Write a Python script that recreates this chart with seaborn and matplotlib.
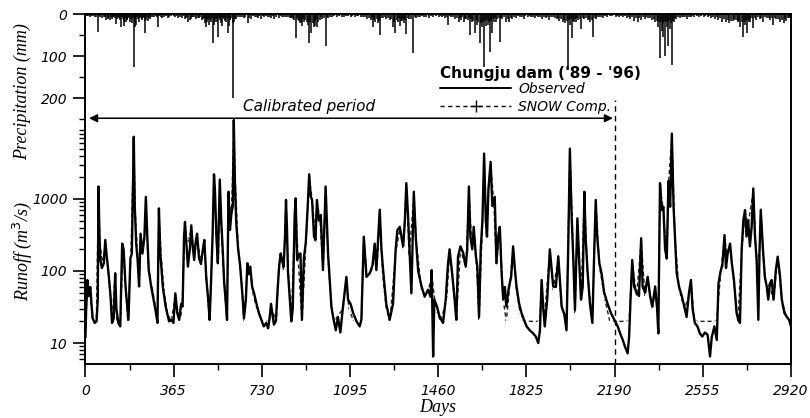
import matplotlib
matplotlib.use("Agg")
import matplotlib.pyplot as plt
import seaborn as sns
import pandas as pd
from matplotlib.lines import Line2D
from matplotlib.ticker import FixedLocator, NullFormatter, FixedFormatter

# ---------------- data ----------------
x_ticks = [0, 365, 730, 1095, 1460, 1825, 2190, 2555, 2920]
runoff_ticks = [10, 100, 1000]
precip_ticks = [0, 100, 200]

# larger daily rainfall events
precip_day = [5, 18, 32, 50, 62, 75, 87, 95, 100, 112, 122, 128, 140, 149, 155, 161, 170, 178, 185, 192,
              199, 204, 210, 216, 224, 232, 238, 245, 252, 258, 266, 272, 282, 300, 312, 325, 340, 352,
              370, 385, 398, 410, 425, 432, 446, 458, 470, 482, 494, 500, 510, 518, 527, 535, 548, 556,
              566, 575, 582, 590, 600, 609, 615, 625, 640, 655, 672, 685, 700, 715, 725,
              740, 755, 770, 782, 800, 815, 830, 845, 860, 870, 880, 890, 898, 905, 915, 925, 935, 945,
              952, 960, 970, 980, 994, 1005, 1020, 1040, 1060, 1080,
              1100, 1115, 1130, 1150, 1165, 1180, 1190, 1200, 1210, 1218, 1230, 1245, 1260, 1273, 1283,
              1292, 1300, 1310, 1320, 1328, 1340, 1356, 1370, 1385, 1400, 1420, 1440,
              1465, 1475, 1490, 1501, 1515, 1530, 1545, 1555, 1565, 1575, 1591, 1600, 1612, 1620, 1632,
              1640, 1649, 1658, 1666, 1674, 1683, 1692, 1700, 1715, 1725, 1740, 1755, 1765, 1780, 1800, 1815,
              1830, 1845, 1860, 1875, 1890, 1905, 1920, 1935, 1950, 1962, 1975, 1985, 1998, 2005, 2012,
              2022, 2030, 2040, 2053, 2065, 2078, 2090, 2102, 2112, 2125, 2140, 2160, 2180,
              2195, 2210, 2225, 2240, 2255, 2270, 2285, 2300, 2315, 2330, 2345, 2358, 2370, 2378, 2385,
              2392, 2399, 2406, 2413, 2420, 2426, 2435, 2445, 2460, 2475, 2490, 2505, 2520, 2540,
              2560, 2575, 2590, 2605, 2620, 2635, 2650, 2665, 2680, 2690, 2700, 2710, 2723, 2730, 2737,
              2745, 2752, 2764, 2775, 2790, 2805, 2820, 2835, 2847, 2860, 2875, 2890, 2900, 2912]
precip_mm = [4, 6, 5, 43, 8, 6, 14, 12, 15, 7, 10, 23, 9, 30, 12, 28, 15, 10, 18, 22,
             126, 30, 25, 12, 10, 15, 8, 45, 14, 16, 12, 8, 6, 30, 6, 8, 10, 5,
             6, 10, 9, 12, 18, 15, 8, 12, 10, 14, 22, 30, 25, 18, 70, 20, 55, 15,
             28, 12, 20, 45, 15, 200, 20, 12, 8, 10, 22, 12, 8, 10, 12,
             8, 6, 10, 12, 9, 6, 8, 10, 12, 58, 15, 22, 28, 18, 20, 70, 45, 30,
             28, 30, 14, 12, 76, 10, 8, 6, 8, 5,
             6, 8, 5, 7, 12, 14, 30, 18, 22, 50, 10, 12, 15, 30, 45,
             20, 28, 16, 22, 48, 12, 93, 10, 8, 6, 9, 6,
             6, 8, 10, 26, 8, 12, 18, 14, 20, 12, 50, 18, 45, 25, 70,
             30, 126, 28, 25, 90, 45, 20, 18, 66, 12, 18, 20, 12, 10, 8, 12,
             6, 8, 10, 6, 12, 10, 14, 8, 12, 16, 20, 22, 133, 25, 58,
             20, 18, 14, 35, 12, 15, 20, 55, 12, 8, 10, 6, 5,
             6, 8, 6, 10, 12, 16, 18, 15, 12, 10, 14, 18, 30, 105, 40,
             55, 100, 30, 75, 35, 121, 20, 12, 10, 8, 12, 8, 6, 8,
             6, 8, 10, 12, 14, 18, 20, 22, 16, 15, 20, 30, 55, 25, 45,
             20, 18, 34, 14, 12, 18, 10, 14, 25, 12, 20, 22, 16, 10]

# small daily rainfall (dense band along the top)
small_rain_day = [2, 10, 24, 40, 44, 57, 68, 80, 92, 105, 108, 116, 119, 132, 136, 144, 152, 158, 164, 167,
                  174, 182, 188, 195, 207, 213, 220, 228, 235, 242, 248, 255, 262, 269, 278, 290, 295, 306,
                  318, 332, 346, 360,
                  366, 378, 392, 404, 416, 420, 438, 441, 452, 464, 476, 488, 491, 497, 504, 507, 514, 522,
                  530, 540, 544, 552, 560, 563, 570, 578, 586, 594, 597, 604, 612, 620, 632, 648, 662, 678,
                  692, 708, 720,
                  735, 748, 762, 776, 790, 808, 822, 838, 852, 856, 864, 874, 885, 894, 901, 910, 920, 930,
                  940, 948, 956, 964, 975, 988, 999, 1012, 1030, 1050, 1070, 1088,
                  1105, 1122, 1140, 1158, 1172, 1185, 1195, 1205, 1214, 1224, 1238, 1252, 1266, 1278, 1288,
                  1296, 1305, 1315, 1324, 1334, 1348, 1362, 1378, 1392, 1410, 1430, 1450,
                  1470, 1482, 1496, 1508, 1522, 1537, 1550, 1560, 1570, 1582, 1586, 1596, 1605, 1616, 1626,
                  1636, 1645, 1654, 1662, 1670, 1679, 1688, 1696, 1705, 1710, 1720, 1732, 1747, 1760, 1772,
                  1790, 1808, 1820,
                  1838, 1852, 1868, 1882, 1898, 1912, 1928, 1942, 1956, 1968, 1980, 1992, 2001, 2008, 2017,
                  2026, 2035, 2046, 2059, 2071, 2084, 2096, 2107, 2118, 2132, 2150, 2170,
                  2200, 2218, 2232, 2248, 2262, 2278, 2292, 2308, 2322, 2338, 2352, 2364, 2374, 2381, 2389,
                  2395, 2403, 2410, 2417, 2423, 2430, 2440, 2452, 2468, 2482, 2498, 2512, 2530, 2548,
                  2566, 2582, 2598, 2612, 2628, 2642, 2658, 2672, 2685, 2695, 2705, 2716, 2726, 2733, 2741,
                  2749, 2757, 2770, 2782, 2797, 2812, 2828, 2841, 2853, 2867, 2882, 2895, 2906, 2916]
small_rain_mm = [3, 5, 4, 6, 8, 5, 10, 7, 9, 6, 11, 8, 5, 12, 7, 14, 6, 18, 9, 20,
                 11, 7, 13, 9, 14, 8, 18, 6, 12, 9, 16, 7, 10, 5, 8, 4, 7, 5,
                 9, 4, 6, 3,
                 4, 5, 7, 5, 9, 6, 11, 8, 6, 10, 8, 12, 9, 16, 20, 12, 14, 10,
                 25, 12, 18, 9, 22, 12, 10, 16, 10, 28, 14, 9, 22, 12, 8, 6, 7, 9,
                 5, 6, 4,
                 4, 5, 6, 5, 7, 5, 6, 7, 9, 6, 14, 10, 16, 18, 12, 14, 26, 18,
                 22, 16, 12, 20, 8, 10, 6, 7, 5, 4, 6, 4,
                 4, 5, 6, 8, 9, 10, 14, 12, 16, 9, 8, 10, 12, 18, 14,
                 10, 16, 12, 14, 9, 12, 8, 6, 5, 6, 4, 5,
                 4, 5, 6, 5, 7, 9, 10, 8, 12, 14, 9, 12, 16, 14, 20,
                 22, 18, 16, 14, 20, 16, 12, 10, 12, 9, 10, 8, 12, 9, 7,
                 5, 6, 4,
                 4, 6, 5, 7, 6, 8, 7, 9, 10, 12, 14, 16, 14, 12, 16,
                 12, 10, 12, 9, 10, 12, 14, 10, 7, 6, 5, 4,
                 4, 5, 4, 6, 8, 9, 10, 8, 7, 9, 12, 16, 20, 18, 22,
                 16, 20, 18, 14, 22, 16, 10, 8, 7, 6, 7, 5, 4, 5,
                 4, 5, 6, 8, 10, 12, 14, 16, 12, 14, 16, 20, 18, 16, 14,
                 12, 10, 9, 8, 10, 8, 9, 10, 9, 12, 14, 12, 9, 6]

obs_day = [0, 3, 8, 14, 20, 25, 30, 38, 46, 51, 54, 58, 62, 68, 76, 82, 88, 96, 104, 110, 117, 123, 128,
           136, 144, 152, 158, 166, 172, 178, 186, 192, 200, 204, 210, 216, 222, 228, 236, 244, 250, 256,
           262, 272, 282, 292, 298, 304, 310, 320, 332, 346, 356, 364, 372, 380, 388, 396, 402, 408, 412,
           418, 424, 432, 438, 444, 450, 456, 462, 470, 478, 486, 492, 500, 508, 514, 520, 526, 532, 536,
           542, 548, 556, 562, 568, 574, 580, 586, 592, 598, 604, 610, 614, 618, 624, 632, 640, 650, 656,
           664, 670, 676, 682, 690, 698, 708, 718, 728, 738, 748, 756, 762, 768, 774, 780, 788, 796, 802,
           808, 814, 820, 826, 830, 834, 838, 846, 852, 858, 866, 870, 876, 884, 890, 896, 904, 912, 920,
           926, 932, 938, 946, 952, 958, 966, 974, 983, 994, 1004, 1018, 1025, 1036, 1045, 1055, 1066,
           1080, 1087, 1097, 1108, 1122, 1135, 1142, 1152, 1163, 1177, 1188, 1197, 1204, 1218, 1225, 1232,
           1245, 1259, 1273, 1284, 1291, 1301, 1308, 1315, 1322, 1328, 1335, 1342, 1349, 1359, 1367, 1377,
           1391, 1404, 1418, 1428, 1433, 1439, 1444, 1455, 1466, 1480, 1491, 1500, 1507, 1518, 1528, 1535,
           1542, 1552, 1563, 1574, 1580, 1587, 1593, 1601, 1607, 1616, 1622, 1629, 1636, 1643, 1650, 1657,
           1662, 1668, 1677, 1684, 1694, 1701, 1708, 1715, 1722, 1729, 1736, 1742, 1753, 1762, 1770, 1777,
           1784, 1795, 1805, 1815, 1826, 1839, 1853, 1864, 1874, 1881, 1888, 1895, 1901, 1911, 1922, 1929,
           1936, 1947, 1957, 1971, 1982, 1991, 1998, 2005, 2012, 2019, 2026, 2036, 2043, 2051, 2058, 2065,
           2070, 2078, 2088, 2098, 2106, 2112, 2118, 2127, 2136, 2147, 2161, 2175, 2189, 2203, 2213, 2224,
           2233, 2244, 2250, 2256, 2263, 2271, 2281, 2291, 2300, 2306, 2316, 2327, 2337, 2346, 2358, 2366,
           2371, 2378, 2385, 2392, 2399, 2406, 2413, 2420, 2427, 2434, 2440, 2447, 2457, 2468, 2479, 2488,
           2498, 2506, 2513, 2522, 2533, 2543, 2553, 2564, 2575, 2585, 2592, 2603, 2613, 2620, 2629, 2636,
           2645, 2651, 2658, 2668, 2675, 2684, 2695, 2702, 2709, 2716, 2723, 2730, 2736, 2743, 2750, 2757,
           2764, 2771, 2778, 2785, 2790, 2795, 2804, 2812, 2820, 2826, 2833, 2840, 2848, 2857, 2865, 2874,
           2882, 2893, 2903, 2912, 2920]
obs_q = [12, 30, 75, 45, 60, 35, 22, 19, 20, 40, 1490, 300, 140, 110, 128, 270, 160, 90, 44, 19, 22, 93, 30,
         19, 17, 240, 200, 60, 35, 21, 150, 175, 7300, 800, 240, 140, 61, 330, 175, 300, 1070, 300,
         103, 61, 40, 26, 19, 740, 175, 61, 32, 20, 21, 19, 49, 26, 21, 35, 32, 300, 480,
         240, 115, 200, 430, 220, 142, 250, 330, 150, 125, 200, 270, 80, 40, 21, 75, 300, 2200, 1300,
         300, 128, 1860, 500, 200, 70, 40, 21, 1260, 370, 630, 800, 12500, 2000, 470, 200, 120, 45, 22,
         40, 128, 90, 115, 60, 49, 35, 26, 21, 17, 19, 16, 22, 35, 25, 18, 20, 60, 120,
         175, 140, 115, 300, 970, 400, 100, 40, 20, 30, 600, 1020, 142, 170, 175, 21, 150, 250, 800,
         2200, 1100, 970, 300, 270, 970, 500, 600, 103, 1490, 175, 32, 23, 15, 23, 14, 32,
         83, 40, 35, 26, 20, 17, 21, 300, 83, 93, 120, 240, 103, 710, 200, 103,
         35, 21, 35, 200, 370, 410, 300, 220, 500, 1660, 600, 175, 49, 1260, 300, 100,
         61, 44, 55, 44, 103, 6.5, 40, 32, 23, 19, 40, 120, 200, 90, 40, 21,
         158, 220, 180, 115, 200, 1490, 300, 200, 410, 160, 115, 23, 200, 500, 4270, 500,
         300, 1400, 3270, 800, 1070, 128, 300, 410, 100, 40, 60, 32, 61, 83, 220, 110,
         61, 35, 26, 21, 17, 15, 13.6, 12.3, 10, 15, 75, 30, 17, 40, 200, 110,
         61, 60, 160, 32, 25, 15, 200, 5000, 600, 150, 29, 540, 150, 40, 60, 1260,
         300, 100, 35, 19, 200, 970, 300, 128, 93, 50, 35, 26, 21, 17, 13.6, 11,
         8.9, 7.2, 12, 40, 142, 61, 50, 45, 285, 61, 50, 83, 45, 32, 61, 30,
         13.6, 1660, 700, 780, 200, 150, 1780, 780, 8100, 800, 300, 93, 60, 45, 32, 23,
         50, 75, 30, 19, 17, 13.6, 12.3, 14, 13, 6.5, 12, 17, 11, 67, 100, 120,
         315, 110, 175, 240, 130, 75, 26, 21, 19, 200, 510, 700, 300, 500, 220, 400,
         1400, 300, 142, 21, 200, 710, 200, 83, 60, 40, 67, 75, 40, 100, 158, 90,
         40, 26, 23, 21, 17]

sim_day = [0, 10, 20, 30, 45, 54, 60, 70, 82, 92, 102, 110, 122, 130, 145, 155, 165, 175, 188, 200, 206,
           214, 224, 230, 244, 250, 260, 272, 285, 298, 304, 314, 326, 340, 355, 372, 390, 400, 410, 420,
           438, 450, 462, 476, 492, 505, 514, 526, 532, 542, 550, 556, 566, 578, 586, 592, 604, 614, 620,
           632, 645, 656, 670, 682, 695, 710, 730, 760, 770, 790, 800, 810, 820, 830, 840, 852, 866, 870,
           880, 896, 912, 926, 940, 952, 958, 970, 983, 994, 1004, 1018, 1030, 1066, 1080, 1090, 1110,
           1142, 1152, 1165, 1190, 1197, 1206, 1218, 1230, 1245, 1260, 1284, 1301, 1315, 1328, 1340, 1359,
           1370, 1390, 1418, 1433, 1450, 1470, 1495, 1507, 1520, 1535, 1552, 1575, 1587, 1600, 1607, 1620,
           1629, 1643, 1650, 1660, 1668, 1677, 1690, 1701, 1715, 1729, 1742, 1770, 1784, 1800, 1815, 1880,
           1888, 1898, 1922, 1936, 1957, 1971, 1991, 2005, 2015, 2026, 2036, 2051, 2065, 2078, 2098, 2112,
           2127, 2147, 2170, 2250, 2263, 2281, 2300, 2316, 2327, 2346, 2358, 2371, 2378, 2392, 2406, 2413,
           2427, 2440, 2457, 2479, 2498, 2506, 2520, 2612, 2629, 2645, 2658, 2668, 2684, 2700, 2716, 2730,
           2743, 2764, 2778, 2790, 2795, 2812, 2833, 2848, 2865, 2882, 2903, 2920]
sim_q = [20, 60, 45, 20, 20, 1200, 250, 130, 220, 120, 50, 20, 80, 20, 20, 200, 70, 20, 160, 6500, 700,
         200, 80, 280, 260, 900, 110, 70, 40, 20, 600, 150, 50, 25, 20, 45, 20, 30, 280, 220,
         380, 150, 300, 140, 240, 50, 20, 280, 2000, 280, 140, 1700, 200, 45, 20, 1100, 550, 11000, 1800,
         220, 80, 20, 110, 100, 45, 30, 20, 20, 30, 20, 110, 160, 100, 900, 90, 20, 550, 900,
         150, 20, 220, 2000, 900, 250, 900, 550, 110, 1300, 160, 30, 20, 30, 75, 30, 20,
         20, 280, 90, 110, 220, 100, 650, 90, 30, 20, 180, 380, 200, 1500, 160, 1100,
         250, 55, 50, 90, 30, 20, 40, 180, 80, 20, 200, 110, 1300, 200, 380, 100,
         20, 450, 3800, 300, 1300, 3000, 900, 120, 380, 40, 20, 200, 55, 25, 20, 20,
         70, 20, 180, 55, 150, 30, 20, 4500, 500, 25, 500, 40, 1100, 90, 20, 950,
         120, 45, 20, 20, 130, 45, 260, 45, 75, 30, 55, 20, 1500, 700, 140, 1600,
         7500, 280, 55, 30, 45, 70, 20, 20, 90, 290, 160, 220, 70, 20, 180, 650,
         450, 1300, 130, 180, 650, 75, 60, 40, 150, 40, 22, 20]

obs_df = pd.DataFrame({"Days": obs_day, "Runoff": obs_q})
sim_df = pd.DataFrame({"Days": sim_day, "Runoff": sim_q})
rain_df = pd.DataFrame({"Days": precip_day + small_rain_day, "Precip": precip_mm + small_rain_mm})

# ---------------- figure ----------------
sns.set_theme(style="white")
plt.rcParams["font.family"] = ["DejaVu Sans"]
plt.rcParams["axes.linewidth"] = 1.4
plt.rcParams["text.color"] = "black"
plt.rcParams["axes.labelcolor"] = "black"
plt.rcParams["xtick.color"] = "black"
plt.rcParams["ytick.color"] = "black"

fig = plt.figure(figsize=(8.1, 4.18), dpi=100)
ax = fig.add_axes([0.1055, 0.129, 0.871, 0.8375])

sns.lineplot(data=sim_df, x="Days", y="Runoff", ax=ax, estimator=None, color="#222222",
             lw=1.0, linestyle=(0, (3, 2)), marker="+", markersize=4, markeredgewidth=0.8)
sns.lineplot(data=obs_df, x="Days", y="Runoff", ax=ax, estimator=None, color="black", lw=1.7)

ax.set_yscale("log")
ax.set_xlim(0, 2920)
ax.set_ylim(5.1, 3.7e5)
ax.set_xlabel("")
ax.set_ylabel("")

ax.xaxis.set_major_locator(FixedLocator(x_ticks))
ax.xaxis.set_minor_locator(FixedLocator([t + 182.5 for t in x_ticks[:-1]]))
ax.yaxis.set_major_locator(FixedLocator(runoff_ticks))
ax.yaxis.set_major_formatter(FixedFormatter([str(t) for t in runoff_ticks]))
minors = [m * d for d in (1, 10, 100, 1000) for m in range(2, 10) if 5 <= m * d < 10000]
ax.yaxis.set_minor_locator(FixedLocator(sorted(set(minors))))
ax.yaxis.set_minor_formatter(NullFormatter())

ax.tick_params(axis="both", which="major", direction="out", length=9, width=1.2,
               labelsize=10, colors="black", pad=4, bottom=True, left=True)
ax.tick_params(axis="both", which="minor", direction="out", length=4.5, width=1.0,
               bottom=True, left=True, colors="black")
for lab in ax.get_xticklabels() + ax.get_yticklabels():
    lab.set_fontstyle("italic")
ax.tick_params(axis="x", pad=5)
for s in ax.spines.values():
    s.set_color("black")
    s.set_linewidth(1.4)

# precipitation axis (inverted, same frame)
ax2 = ax.twinx()
ax2.vlines(rain_df["Days"], 0, rain_df["Precip"], color="black", lw=1.1)
ax2.set_ylim(833, 0)
ax2.yaxis.tick_left()
ax2.yaxis.set_major_locator(FixedLocator(precip_ticks))
ax2.yaxis.set_major_formatter(FixedFormatter([str(t) for t in precip_ticks]))
ax2.yaxis.set_minor_locator(FixedLocator([50, 150, 250]))
ax2.tick_params(axis="y", which="major", direction="out", length=9, width=1.2, labelsize=10,
                left=True, right=False, labelleft=True, labelright=False, pad=4, colors="black")
ax2.tick_params(axis="y", which="minor", direction="out", length=4.5, width=1.0, left=True, right=False,
                colors="black")
for lab in ax2.get_yticklabels():
    lab.set_fontstyle("italic")
ax2.grid(False)
for s in ax2.spines.values():
    s.set_visible(False)

# calibration marks
ax2.axvline(2190, ymin=0, ymax=0.755, color="black", lw=1.0, linestyle=(0, (4, 3)))
ax2.annotate("", xy=(2183, 248), xytext=(15, 248),
             arrowprops=dict(arrowstyle="<|-|>", color="black", lw=1.1, mutation_scale=12,
                             shrinkA=0, shrinkB=0))
ax2.text(924, 221, "Calibrated period", ha="center", va="center", fontsize=11, fontstyle="italic",
         color="black")

# legend
h_obs = Line2D([], [], color="black", lw=1.4)
h_sim = Line2D([], [], color="black", lw=1.0, linestyle=(0, (3, 2.5)), marker="+", markersize=8,
               markeredgewidth=1.0)
leg = ax2.legend([h_obs, h_sim], ["Observed", "SNOW Comp."], title="Chungju dam ('89 - '96)",
                 loc="upper left", bbox_to_anchor=(0.503, 0.852), frameon=False, handlelength=5.1,
                 handletextpad=0.5, labelspacing=0.25, borderpad=0, borderaxespad=0,
                 prop={"style": "italic", "size": 10, "family": "DejaVu Sans"},
                 title_fontproperties={"weight": "bold", "size": 11, "family": "DejaVu Sans"},
                 alignment="left")
leg._legend_box.sep = 1
leg.get_title().set_color("black")
for t in leg.get_texts():
    t.set_color("black")

# axis labels
fig.text(0.028, 0.78, "Precipitation (mm)", rotation=90, ha="center", va="center",
         fontsize=13, fontstyle="italic", family="Liberation Serif", color="black")
fig.text(0.028, 0.40, "Runoff (m$^3$/s)", rotation=90, ha="center", va="center",
         fontsize=13, fontstyle="italic", family="Liberation Serif", color="black")
fig.text(0.54, 0.025, "Days", ha="center", va="center",
         fontsize=13, fontstyle="italic", family="Liberation Serif", color="black")

fig.savefig("out.png", dpi=100)
